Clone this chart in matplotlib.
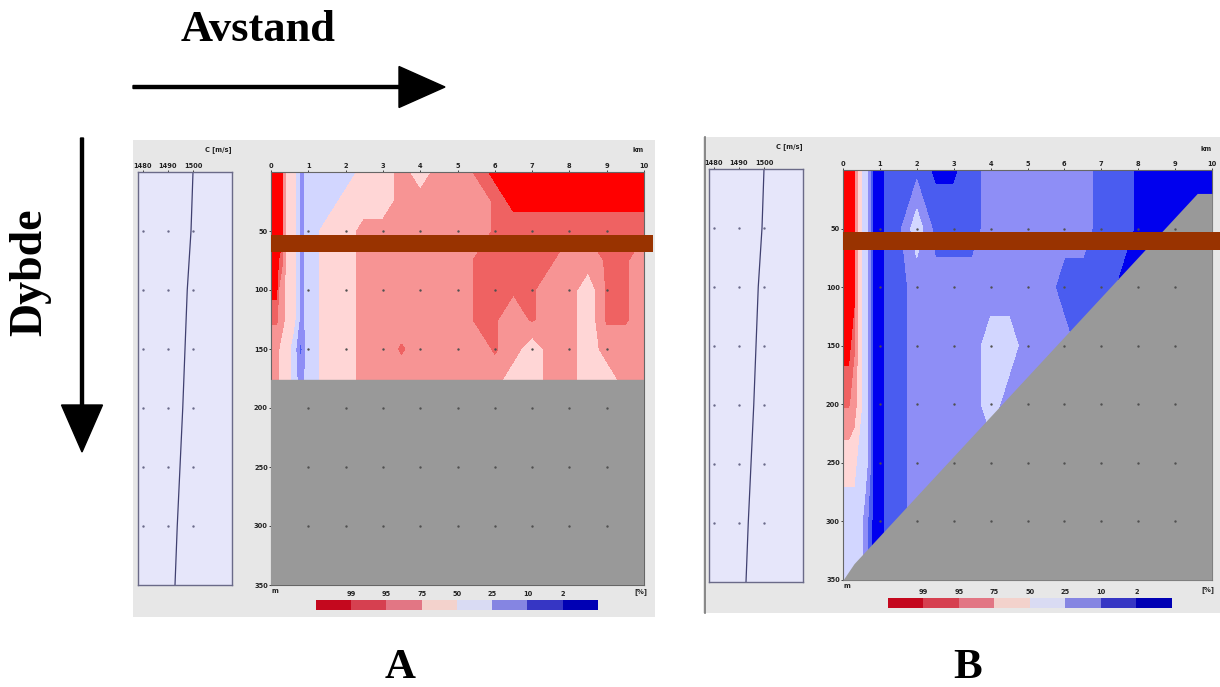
import numpy as np
import matplotlib
matplotlib.use('Agg')
import matplotlib.pyplot as plt
from matplotlib.colors import ListedColormap, BoundaryNorm
from matplotlib.patches import Rectangle, FancyArrow

W, H = 1220, 687

# Klassegrenser for dekning (%) og fargene i hver klasse (lav -> høy)
levels = [0, 2, 10, 25, 50, 75, 95, 99, 101]
fill_colors = ['#0000ee', '#4a5cf0', '#8e8ef6', '#d2d6ff', '#ffd6d6', '#f79494', '#ef6262', '#ff0000']
# Fargeskalaen under plottet (høy -> lav)
cbar_colors = ['#c4081e', '#d64050', '#e27684', '#f3d2cc', '#d9dbf3', '#8585e2', '#3636c4', '#0000b4']
cbar_labels = ['99', '95', '75', '50', '25', '10', '2']

# Lydhastighetsprofil
prof_depth = [0, 50, 100, 150, 200, 250, 300, 350]
prof_speed = [1500.0, 1499.2, 1497.7, 1496.8, 1495.9, 1494.8, 1493.7, 1492.8]
prof_ticks = [1480, 1490, 1500]

# Avstand (km) for kolonnene i dekningsgridet
km = [0, 0.15, 0.3, 0.45, 0.6, 0.8, 1.0, 1.5, 2, 2.5, 3, 3.5, 4, 4.5, 5,
      5.5, 6, 6.5, 7, 7.5, 8, 8.5, 9, 9.5, 10]

# A: flat bunn
a_depth = [0, 25, 50, 75, 100, 125, 150, 176]
a_cov = [
    [100, 100, 100, 60, 60, 15, 35, 35, 35, 60, 60, 85, 60, 85, 85, 97, 100, 100, 100, 100, 100, 100, 100, 100, 100],
    [100, 100, 100, 60, 60, 15, 35, 35, 60, 60, 60, 85, 85, 85, 85, 85, 97, 100, 100, 100, 100, 100, 100, 100, 100],
    [100, 100, 100, 60, 60, 15, 35, 60, 60, 85, 85, 85, 85, 85, 85, 85, 97, 97, 97, 97, 97, 97, 97, 97, 97],
    [100, 100, 97, 60, 60, 15, 35, 60, 60, 85, 85, 85, 85, 85, 85, 97, 97, 97, 97, 97, 85, 85, 97, 97, 85],
    [100, 100, 85, 60, 60, 15, 35, 60, 60, 85, 85, 85, 85, 85, 85, 97, 97, 97, 97, 85, 85, 60, 97, 97, 85],
    [97, 97, 85, 60, 60, 15, 35, 60, 60, 85, 85, 85, 85, 85, 85, 97, 97, 85, 97, 85, 85, 60, 97, 97, 85],
    [85, 85, 60, 60, 35, 5, 35, 60, 60, 85, 85, 97, 85, 85, 85, 85, 97, 85, 60, 85, 85, 60, 85, 85, 85],
    [85, 85, 60, 60, 35, 15, 35, 60, 60, 85, 85, 85, 85, 85, 85, 85, 85, 60, 60, 85, 85, 60, 60, 85, 85],
]
a_bottom = 176

# B: skrånende bunn
b_depth = [0, 50, 100, 150, 200, 250, 300, 350]
b_cov = [
    [100, 100, 100, 60, 35, 1, 1, 5, 5, 1, 1, 5, 15, 15, 15, 15, 15, 15, 5, 5, 1, 1, 1, 1, 1],
    [100, 100, 100, 60, 35, 1, 1, 5, 35, 5, 5, 5, 15, 15, 15, 15, 15, 15, 5, 5, 1, 1, 1, 1, 1],
    [100, 100, 100, 60, 35, 1, 1, 5, 15, 15, 15, 15, 15, 15, 15, 15, 5, 5, 5, 1, 1, 1, 1, 1, 1],
    [100, 100, 97, 60, 35, 1, 1, 5, 15, 15, 15, 15, 35, 35, 15, 15, 15, 5, 5, 1, 1, 1, 1, 1, 1],
    [97, 97, 85, 60, 35, 1, 1, 5, 15, 15, 15, 15, 35, 15, 15, 15, 15, 15, 15, 15, 15, 15, 15, 15, 15],
    [60, 60, 60, 35, 35, 1, 1, 5, 15, 15, 15, 15, 15, 15, 15, 15, 15, 15, 15, 15, 15, 15, 15, 15, 15],
    [35, 35, 35, 35, 15, 1, 1, 5, 15, 15, 15, 15, 15, 15, 15, 15, 15, 15, 15, 15, 15, 15, 15, 15, 15],
    [35, 35, 35, 35, 15, 1, 1, 5, 15, 15, 15, 15, 15, 15, 15, 15, 15, 15, 15, 15, 15, 15, 15, 15, 15],
]
b_bottom_km = [0, 0.3, 9.6, 10]
b_bottom_m = [350, 336, 20, 20]

# Brun linje (dybdeintervall, m)
bar_depth = (53, 68)

grid_km = [1, 2, 3, 4, 5, 6, 7, 8, 9]
grid_m = [50, 100, 150, 200, 250, 300]
depth_ticks = [50, 100, 150, 200, 250, 300, 350]

cmap = ListedColormap(fill_colors)
norm = BoundaryNorm(levels, cmap.N)
small = dict(fontsize=4.8, fontweight='bold', color='#222222')


def px(x0, y0, x1, y1):
    return [x0 / W, 1 - y1 / H, (x1 - x0) / W, (y1 - y0) / H]


fig = plt.figure(figsize=(W / 100, H / 100), dpi=100)
fig.patch.set_facecolor('white')

bg = fig.add_axes([0, 0, 1, 1], zorder=0)
bg.set_xlim(0, W)
bg.set_ylim(H, 0)
bg.axis('off')


def profile_panel(box):
    ax = fig.add_axes(px(*box), zorder=2)
    ax.set_facecolor('#e6e6fa')
    ax.plot(prof_speed, prof_depth, color='#404070', lw=0.9)
    gx, gy = np.meshgrid(prof_ticks, grid_m)
    ax.scatter(gx.ravel(), gy.ravel(), s=3, color='#6a6a8a', lw=0)
    ax.set_xlim(1478, 1515.6)
    ax.set_ylim(350, 0)
    ax.xaxis.tick_top()
    ax.set_xticks(prof_ticks)
    ax.set_xticklabels([str(t) for t in prof_ticks], **small)
    ax.tick_params(axis='x', length=1.5, pad=0.5, width=0.5)
    ax.set_yticks([])
    for s in ax.spines.values():
        s.set_color('#6a6a88')
        s.set_linewidth(1.0)
    ax.text(1.0, 1.045, 'C [m/s]', transform=ax.transAxes, ha='right', va='bottom', **small)
    return ax


def main_panel(box, depth, cov):
    ax = fig.add_axes(px(*box), zorder=2)
    ax.set_facecolor('#999999')
    ax.contourf(km, depth, cov, levels=levels, cmap=cmap, norm=norm)
    ax.set_xlim(0, 10)
    ax.set_ylim(350, 0)
    ax.xaxis.tick_top()
    ax.set_xticks(range(11))
    ax.set_xticklabels([str(t) for t in range(11)], **small)
    ax.set_yticks(depth_ticks)
    ax.set_yticklabels([str(t) for t in depth_ticks], **small)
    ax.tick_params(length=1.5, pad=0.8, width=0.5)
    for s in ax.spines.values():
        s.set_color('#666666')
        s.set_linewidth(0.8)
    ax.text(1.0, 1.045, 'km', transform=ax.transAxes, ha='right', va='bottom', **small)
    ax.text(0.0, -0.008, 'm', transform=ax.transAxes, ha='left', va='top', **small)
    return ax


def colorbar(box):
    ax = fig.add_axes(px(*box), zorder=2)
    ax.imshow(np.arange(len(cbar_colors))[None, :], cmap=ListedColormap(cbar_colors),
              aspect='auto', extent=(0, len(cbar_colors), 0, 1))
    ax.set_xticks([])
    ax.set_yticks([])
    for s in ax.spines.values():
        s.set_visible(False)
    for i, lab in enumerate(cbar_labels):
        ax.text(i + 1, 1.25, lab, ha='center', va='bottom', **small)
    return ax


def dots(ax):
    gx, gy = np.meshgrid(grid_km, grid_m)
    ax.scatter(gx.ravel(), gy.ravel(), s=3, color='#505050', lw=0, zorder=5)


# ---------- A ----------
bg.add_patch(Rectangle((133, 140), 522, 477, color='#e7e7e7', lw=0))
profile_panel((138, 172, 232, 585))
axA = main_panel((271, 172, 644, 585), a_depth, a_cov)
axA.axhspan(a_bottom, 350, color='#999999', zorder=3)
dots(axA)
axA.add_patch(Rectangle((0, bar_depth[0]), 10.25, bar_depth[1] - bar_depth[0],
                        color='#993300', lw=0, clip_on=False, zorder=6))
colorbar((316, 600, 598, 610))
bg.text(641, 592, '[%]', ha='center', va='center', **small)

# ---------- B ----------
bg.add_patch(Rectangle((703, 137), 520, 476, color='#e7e7e7', lw=0))
bg.plot([704.5, 704.5], [137, 613], color='#777777', lw=1.2)
profile_panel((709, 169, 803, 582))
axB = main_panel((843, 170, 1212, 580), b_depth, b_cov)
axB.fill_between(b_bottom_km, b_bottom_m, 350, color='#999999', lw=0, zorder=3)
dots(axB)
axB.add_patch(Rectangle((0, bar_depth[0]), 10.25, bar_depth[1] - bar_depth[0],
                        color='#993300', lw=0, clip_on=False, zorder=6))
colorbar((888, 598, 1172, 608))
bg.text(1208, 590, '[%]', ha='center', va='center', **small)

# ---------- piler og tekst ----------
bg.add_patch(FancyArrow(133, 87, 312, 0, width=3, head_width=41, head_length=46,
                        length_includes_head=True, color='black'))
bg.add_patch(FancyArrow(82, 138, 0, 314, width=3, head_width=41, head_length=47,
                        length_includes_head=True, color='black'))
big = dict(family='Liberation Serif', fontweight='bold', color='black')
bg.text(258, 30, 'Avstand', ha='center', va='center', fontsize=32, **big)
bg.text(30, 272, 'Dybde', ha='center', va='center', rotation=90, fontsize=33, **big)
bg.text(400, 668, 'A', ha='center', va='center', fontsize=31, **big)
bg.text(968, 668, 'B', ha='center', va='center', fontsize=31, **big)

fig.savefig('out.png', dpi=100)
